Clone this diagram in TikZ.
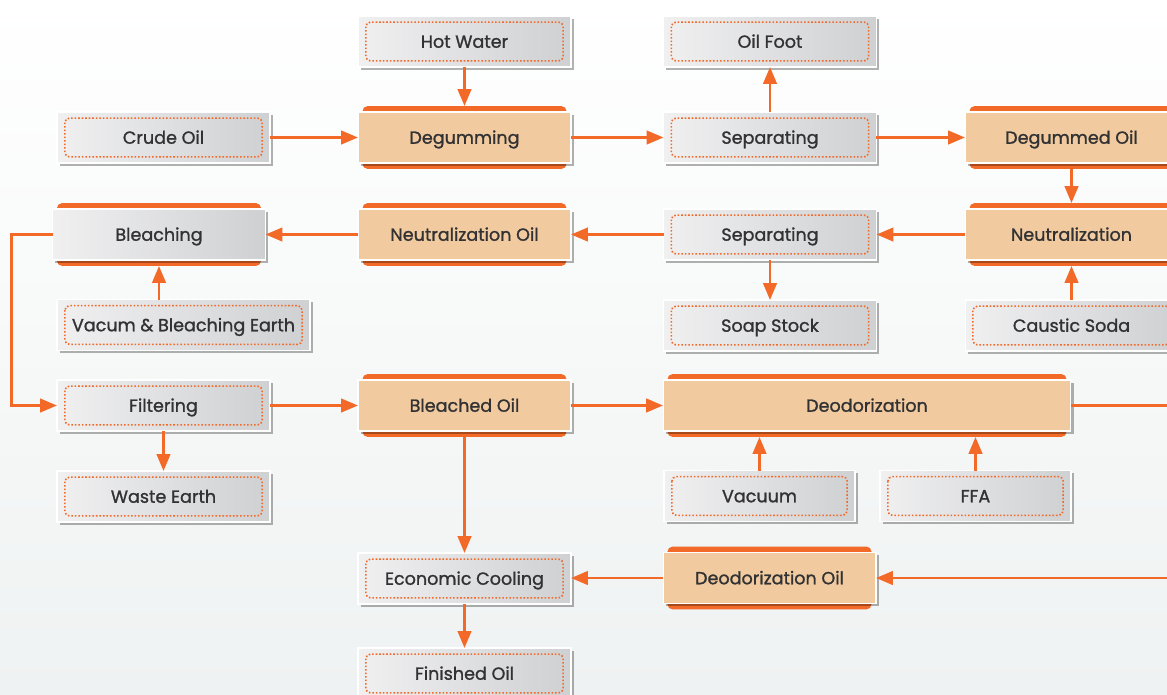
\documentclass[tikz,border=0pt]{standalone}
\usepackage{fontspec}
\setmainfont{Poppins}[FakeBold=1.2]
\usetikzlibrary{arrows.meta, shadows, backgrounds}
\definecolor{flowOrange}{RGB}{242, 105, 40}
\definecolor{procFill}{RGB}{241, 203, 159}
\definecolor{matLight}{RGB}{240, 240, 241}
\definecolor{matMid}{RGB}{216, 217, 219}
\definecolor{matDark}{RGB}{207, 208, 210}
\definecolor{labelText}{RGB}{50, 50, 52}
\definecolor{bgLow}{RGB}{239, 242, 242}

\begin{document}
\begin{tikzpicture}[x=0.02cm, y=-0.02cm, font=\fontsize{10}{12}\selectfont,
    >={Triangle[length=0.34cm, width=0.27cm]},
    flow/.style={->, draw=flowOrange, line width=1.6pt},
    boxbase/.style={rectangle, inner sep=0pt, outer sep=0pt, minimum width=4.26cm,
      minimum height=1.02cm, text height=1.5ex, text depth=0.2ex, text=labelText,
      draw=white, line width=0.6pt,
      drop shadow={shadow xshift=1.5pt, shadow yshift=-1.5pt, fill=black, opacity=0.3}},
    material/.style={boxbase, left color=matLight, middle color=matMid, right color=matDark,
      path picture={\draw[flowOrange, line width=0.9pt, dash pattern=on 0.9pt off 1.1pt,
        rounded corners=2.5pt]
        ([shift={(4.5pt,-3.5pt)}]path picture bounding box.north west) rectangle
        ([shift={(-4.5pt,3.5pt)}]path picture bounding box.south east);}},
    process/.style={boxbase, fill=procFill, outer ysep=3.4pt},
    grayprocess/.style={boxbase, left color=matLight, middle color=matMid,
      right color=matDark, outer ysep=3.4pt}]

  \useasboundingbox (0,0) rectangle (1167,694);
  \begin{scope}[on background layer]
    \shade[top color=white, bottom color=bgLow] (0,0) rectangle (1167,694);
  \end{scope}
  \clip (0,0) rectangle (1167,694);

  % row 1
  \node[material] (hotw) at (464.5,41.5) {Hot Water};
  \node[material] (oilfoot) at (770,41.5) {Oil Foot};
  % row 2
  \node[material] (crude) at (163.5,137.5) {Crude Oil};
  \node[process] (degum) at (464.5,137.5) {Degumming};
  \node[material] (sep1) at (770,137.5) {Separating};
  \node[process] (degoil) at (1071.5,137.5) {Degummed Oil};
  % row 3
  \node[grayprocess] (bleach) at (159,234.5) {Bleaching};
  \node[process] (neutoil) at (464.5,234.5) {Neutralization Oil};
  \node[material] (sep2) at (770,234.5) {Separating};
  \node[process] (neut) at (1071.5,234.5) {Neutralization};
  % row 4
  \node[material, minimum width=5.06cm] (vbe) at (183.5,325) {Vacum \& Bleaching Earth};
  \node[material] (soap) at (770,325.5) {Soap Stock};
  \node[material] (caustic) at (1071.5,325.5) {Caustic Soda};
  % row 5
  \node[material] (filter) at (163.5,405.5) {Filtering};
  \node[process] (bleachoil) at (464.5,405.5) {Bleached Oil};
  \node[process, minimum width=8.16cm] (deo) at (867,405.5) {Deodorization};
  % row 6
  \node[material] (waste) at (163.5,496.5) {Waste Earth};
  \node[material, minimum width=3.82cm] (vacuum) at (759.5,496) {Vacuum};
  \node[material, minimum width=3.82cm] (ffa) at (975.5,496) {FFA};
  % row 7 and 8
  \node[material] (ecool) at (464.5,578.5) {Economic Cooling};
  \node[process] (deooil) at (769.5,578) {Deodorization Oil};
  \node[material] (finoil) at (464.5,673.5) {Finished Oil};

  % orange bars behind the process boxes
  \begin{scope}[on background layer]
    \foreach \n in {degum, degoil, bleach, neutoil, neut, bleachoil, deo, deooil}
      \fill[flowOrange, rounded corners=3pt] ([xshift=2.5pt]\n.north west)
        rectangle ([xshift=-2.5pt]\n.south east);
  \end{scope}

  \draw[flow] (hotw) -- (degum);
  \draw[flow] (crude) -- (degum);
  \draw[flow] (degum) -- (sep1);
  \draw[flow] (sep1) -- (oilfoot);
  \draw[flow] (sep1) -- (degoil);
  \draw[flow] (degoil) -- (neut);
  \draw[flow] (caustic) -- (neut);
  \draw[flow] (neut) -- (sep2);
  \draw[flow] (sep2) -- (soap);
  \draw[flow] (sep2) -- (neutoil);
  \draw[flow] (neutoil) -- (bleach);
  \draw[flow] (vbe.north -| bleach.south) -- (bleach.south);
  \draw[flow] (bleach.west) -- ++(-41,0) |- (filter.west);
  \draw[flow] (filter) -- (waste);
  \draw[flow] (filter) -- (bleachoil);
  \draw[flow] (bleachoil) -- (deo);
  \draw[flow] (vacuum.north) -- (vacuum.north |- deo.south);
  \draw[flow] (ffa.north) -- (ffa.north |- deo.south);
  \draw[flow] (deo.east) -- ++(140,0) |- (deooil.east);
  \draw[flow] (bleachoil) -- (ecool);
  \draw[flow] (deooil.west) -- (deooil.west -| ecool.east);
  \draw[flow] (ecool) -- (finoil);
\end{tikzpicture}
\end{document}
